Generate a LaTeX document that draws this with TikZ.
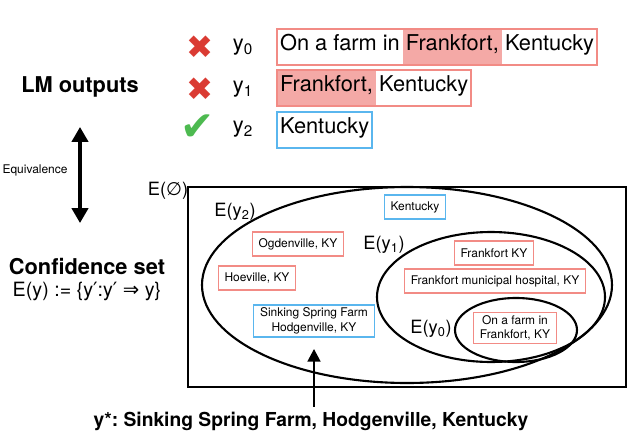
\documentclass[tikz,border=0pt]{standalone}
\usepackage{fontspec}
\setmainfont{TeX Gyre Heros}
\newfontfamily\symfont{DejaVu Sans}
\usepackage{xcolor}
\usepackage{tikz}
\usetikzlibrary{arrows.meta, positioning, calc}
\frenchspacing
\definecolor{wrongred}{HTML}{F28B85}
\definecolor{hilite}{HTML}{F4A9A6}
\definecolor{rightblue}{HTML}{5AB6EE}
\definecolor{crossred}{HTML}{DA3B33}
\definecolor{tickgreen}{HTML}{4DBA50}
\newcommand\rowfont{\fontsize{15.5}{18}\selectfont}
\newcommand\memberfont{\fontsize{8.5}{10.5}\selectfont}
\newcommand\headfont{\fontsize{15.5}{18}\selectfont\bfseries}
\newcommand\setfont{\fontsize{13}{15}\selectfont}
\tikzstyle{seg} = [rectangle, inner xsep=2pt, inner ysep=0pt, minimum height=0.9cm, text height=0.72em, text depth=0.22em, font=\rowfont, anchor=west]
\tikzstyle{hl} = [seg, fill=hilite]
\tikzstyle{wrongbox} = [draw=wrongred, line width=1.2pt]
\tikzstyle{rightbox} = [draw=rightblue, line width=1.2pt]
\tikzstyle{member} = [rectangle, minimum height=0.6cm, inner xsep=4.5pt, inner ysep=2pt, align=center, font=\memberfont, line width=1pt]
\tikzstyle{wrongmember} = [member, draw=wrongred]
\tikzstyle{rightmember} = [member, draw=rightblue]
\tikzstyle{wrongmark} = [font=\symfont\fontsize{23}{23}\selectfont, text=crossred]
\tikzstyle{rightmark} = [font=\symfont\fontsize{29}{29}\selectfont, text=tickgreen]
\tikzstyle{setline} = [line width=1.5pt]
\tikzstyle{equiv} = [line width=2.2pt, {Triangle[width=11.5pt,length=10.5pt]}-{Triangle[width=11.5pt,length=10.5pt]}]
\tikzstyle{pointer} = [line width=1.8pt, -{Triangle[width=9pt,length=9pt]}]

\begin{document}
\begin{tikzpicture}[x=0.025cm, y=-0.025cm]
        \useasboundingbox (0,0) rectangle (640,442);

        % LM outputs
        \node (no0) [wrongmark] at (200,47) {✖};
        \node (no1) [wrongmark] at (200,89) {✖};
        \node (yes2) [rightmark] at (198,128) {✔};
        \node (y0) [font=\rowfont] at (243,47) {y\textsubscript{0}};
        \node (y1) [font=\rowfont] at (243,89) {y\textsubscript{1}};
        \node (y2) [font=\rowfont] at (243,129) {y\textsubscript{2}};

        \node (r0a) [seg] at (277,47) {On a farm in};
        \node (r0b) [hl, right=0pt of r0a] {Frankfort,};
        \node (r0c) [seg, right=0pt of r0b] {Kentucky};
        \draw [wrongbox] (r0a.north west) rectangle (r0c.south east);

        \node (r1a) [hl] at (277,88) {Frankfort,};
        \node (r1b) [seg, right=0pt of r1a] {Kentucky};
        \draw [wrongbox] (r1a.north west) rectangle (r1b.south east);

        \node (r2a) [seg] at (277,130) {Kentucky};
        \draw [rightbox] (r2a.north west) rectangle (r2a.south east);

        % left column
        \node (lm) [font=\headfont] at (80,87) {LM outputs};
        \coordinate (eqtop) at (80,127);
        \coordinate (eqbot) at (80,223);
        \draw [equiv] (eqtop) -- (eqbot);
        \node (eqlabel) [font=\fontsize{8.5}{10}\selectfont] at (35,170) {Equivalence};
        \node (conf) [font=\headfont] at (87,267) {Confidence set};
        \node (def) [font=\fontsize{14}{16}\selectfont, below=-2pt of conf] {E(y) := \{y{\symfont ′}:y{\symfont ′} {\symfont ⇒} y\}};

        % the sets
        \node (eall) [font=\setfont] at (168,191) {E({\symfont ∅})};
        \draw [setline] (188,187) rectangle (626,387);
        \coordinate (c2) at (407,285);
        \coordinate (c1) at (491,297);
        \coordinate (c0) at (516,330);
        \draw [setline] (c2) ellipse [x radius=205, y radius=98];
        \draw [setline] (c1) ellipse [x radius=114, y radius=65];
        \draw [setline] (c0) ellipse [x radius=61, y radius=32];
        \node (e2) [font=\setfont] at (235,212) {E(y\textsubscript{2})};
        \node (e1) [font=\setfont] at (384,245) {E(y\textsubscript{1})};
        \node (e0) [font=\setfont] at (431,329) {E(y\textsubscript{0})};

        \node (kent) [rightmember] at (415,207) {Kentucky};
        \node (ogden) [wrongmember] at (298,244) {Ogdenville, KY};
        \node (hoe) [wrongmember] at (257,278) {Hoeville, KY};
        \node (sink) [rightmember] at (314,321) {Sinking Spring Farm\\Hodgenville, KY};
        \node (frky) [wrongmember] at (494,253) {Frankfort KY};
        \node (frmun) [wrongmember] at (495,281) {Frankfort municipal hospital, KY};
        \node (farm) [wrongmember] at (515,328) {On a farm in\\Frankfort, KY};

        % true answer
        \node (ystar) [font=\fontsize{13.7}{16}\selectfont\bfseries] at (311,421) {y*: Sinking Spring Farm, Hodgenville, Kentucky};
        \draw [pointer, shorten >=8pt] (sink.south |- ystar.north) -- (sink.south);
    \end{tikzpicture}
\end{document}
